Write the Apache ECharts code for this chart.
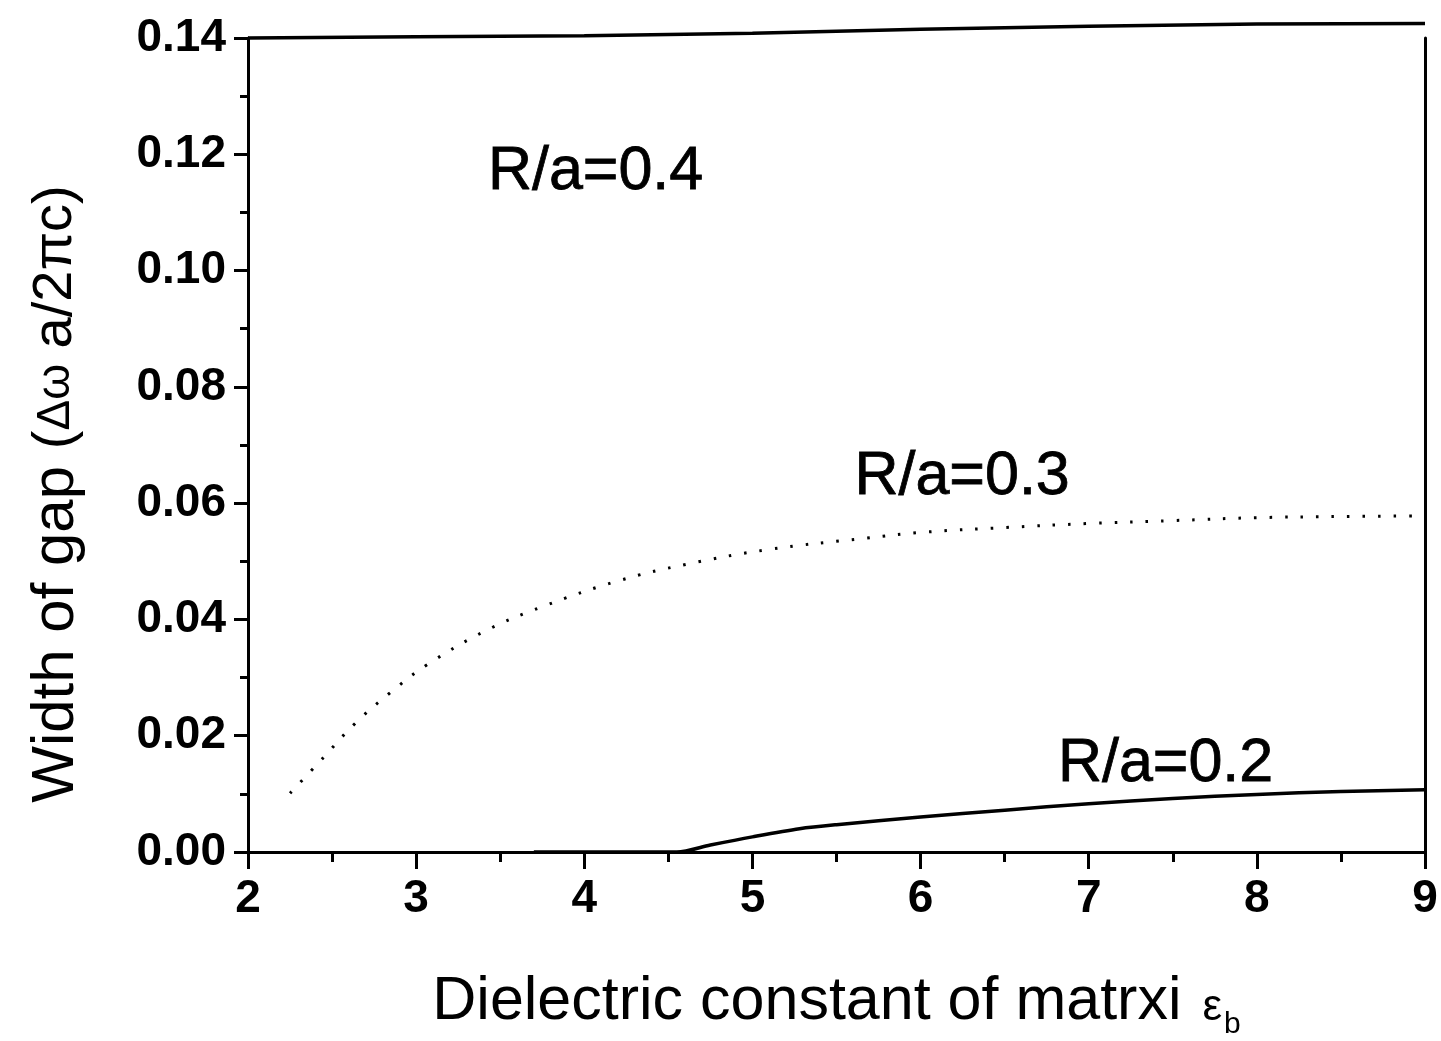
<!DOCTYPE html>
<html>
<head>
<meta charset="utf-8">
<script src="https://cdn.jsdelivr.net/npm/echarts@6/dist/echarts.min.js"></script>
<style>
html,body{margin:0;padding:0;background:#fff;}
#chart{width:1441px;height:1041px;}
</style>
</head>
<body>
<div id="chart"></div>
<script>
// ---- data ----
var xTicks = [2, 3, 4, 5, 6, 7, 8, 9];
var yTicks = [0.00, 0.02, 0.04, 0.06, 0.08, 0.10, 0.12, 0.14];

var r04X = [2, 3, 4, 5, 6, 7, 8, 9];
var r04Y = [0.1400, 0.1402, 0.1404, 0.1408, 0.1415, 0.1420, 0.1424, 0.1425];

var r03X = [2.25, 2.45, 2.64, 2.85, 3.07, 3.41, 3.76, 4.21, 4.61, 5.09, 5.68, 6.02, 6.5, 7.0, 7.5, 8.0, 8.5, 9.0];
var r03Y = [0.0101, 0.0163, 0.0222, 0.0275, 0.0323, 0.0380, 0.0423, 0.0467, 0.0495, 0.0520, 0.0540, 0.0550, 0.0558, 0.0565, 0.0570, 0.0575, 0.0577, 0.0578];

var r02X = [3.7, 4.0, 4.3, 4.55, 4.75, 5.0, 5.28, 5.5, 6.0, 6.5, 7.0, 7.5, 8.0, 8.5, 9.0];
var r02Y = [0.0, 0.0, 0.0, 0.0, 0.0012, 0.0026, 0.0040, 0.0047, 0.0060, 0.0072, 0.0083, 0.0092, 0.0099, 0.0104, 0.0107];

var labelText = ["R/a=0.4", "R/a=0.3", "R/a=0.2"];
var labelX = [4.07, 6.25, 7.46];
var labelY = [0.1168, 0.0643, 0.0150];

function zip(xs, ys){ return xs.map(function(x,i){ return [x, ys[i]]; }); }

var chart = echarts.init(document.getElementById('chart'), null, {renderer:'canvas'});
var FONT = '"Liberation Sans", Arial, sans-serif';

var option = {
  backgroundColor: '#ffffff',
  animation: false,
  grid: { left: 248, right: 16, top: 38, bottom: 189, containLabel: false, outerBoundsMode: 'none' },
  xAxis: [{
    type: 'value', min: xTicks[0], max: xTicks[xTicks.length-1], interval: 1,
    name: 'Dielectric constant of matrxi {e|ε}{sub|b}',
    nameLocation: 'middle', nameGap: 112,
    nameTextStyle: {
      fontFamily: FONT, fontSize: 61, color: '#000',
      rich: {
        e: { fontFamily: FONT, fontSize: 44, color: '#000', padding: [12,0,0,4] },
        sub: { fontFamily: FONT, fontSize: 30, color: '#000', padding: [46,0,0,2] }
      }
    },
    axisLine: { show: true, onZero: false, lineStyle: { color: '#000', width: 3 } },
    axisTick: { show: true, inside: false, length: 17, lineStyle: { color: '#000', width: 3 } },
    minorTick: { show: true, splitNumber: 2, length: 10, lineStyle: { color: '#000', width: 3 } },
    axisLabel: { fontFamily: FONT, fontSize: 46, fontWeight: 'bold', color: '#000', margin: 24 },
    splitLine: { show: false }
  }],
  yAxis: [{
    type: 'value', min: 0, max: 0.14, interval: 0.02,
    name: 'Width of gap {s|(}{d|Δω}{s| a/2πc)}',
    nameLocation: 'middle', nameGap: 162,
    nameTextStyle: {
      fontFamily: FONT, fontSize: 60, color: '#000',
      padding: [0, 98, 0, 0],
      rich: {
        s: { fontFamily: FONT, fontSize: 56, color: '#000' },
        d: { fontFamily: FONT, fontSize: 46, color: '#000' }
      }
    },
    axisLine: { show: true, onZero: false, lineStyle: { color: '#000', width: 3 } },
    axisTick: { show: true, inside: false, length: 14, lineStyle: { color: '#000', width: 3 } },
    minorTick: { show: true, splitNumber: 2, length: 8, lineStyle: { color: '#000', width: 3 } },
    axisLabel: { fontFamily: FONT, fontSize: 46, fontWeight: 'bold', color: '#000', margin: 22,
      formatter: function(v){ return v.toFixed(2); } },
    splitLine: { show: false }
  }, {
    type: 'value', min: 0, max: 0.14, position: 'right',
    axisLine: { show: true, onZero: false, lineStyle: { color: '#000', width: 3 } },
    axisTick: { show: false }, axisLabel: { show: false }, splitLine: { show: false }
  }],
  series: [
    {
      name: 'R/a=0.4', type: 'line', data: zip(r04X, r04Y), showSymbol: false,
      clip: false, lineStyle: { color: '#000', width: 3.5 }
    },
    {
      name: 'R/a=0.3', type: 'line', data: zip(r03X, r03Y), showSymbol: false, smooth: 0.4,
      lineStyle: { color: '#000', width: 3, type: [2.5, 13] }
    },
    {
      name: 'R/a=0.2', type: 'line', data: zip(r02X, r02Y), showSymbol: false, smooth: 0.3,
      lineStyle: { color: '#000', width: 3.5 }
    },
    {
      name: 'labels', type: 'scatter', symbolSize: 1,
      itemStyle: { color: 'rgba(0,0,0,0)', opacity: 1 },
      data: labelText.map(function(t,i){ return { name: t, value: [labelX[i], labelY[i]] }; }),
      label: { show: true, position: [0, 0], align: 'center', verticalAlign: 'middle',
        formatter: function(p){ return p.name; },
        fontFamily: FONT, fontSize: 61, color: '#000', opacity: 1,
        textBorderColor: '#000', textBorderWidth: 0.8 },
      emphasis: { disabled: true },
      silent: true
    }
  ]
};
chart.setOption(option);
</script>
</body>
</html>
